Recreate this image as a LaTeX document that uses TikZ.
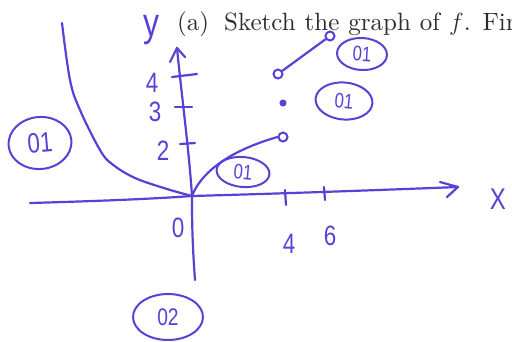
\documentclass[tikz,border=0pt]{standalone}
\usepackage{fontspec}
\newfontfamily\hand[FakeStretch=0.8]{Liberation Sans}
\newfontfamily\printfont{lmroman10-regular.otf}
\usetikzlibrary{shapes.geometric}
\definecolor{inkc}{RGB}{88,66,214}
\definecolor{printc}{RGB}{45,45,45}
\begin{document}
\begin{tikzpicture}[x=1pt,y=-1pt,
  ink/.style={draw=inkc, line width=2.2pt, line cap=round, line join=round},
  hw/.style={text=inkc, font=\hand\fontsize{28}{28}\selectfont, inner sep=0pt},
  hwsmall/.style={text=inkc, font=\hand\fontsize{21}{21}\selectfont, inner sep=0pt},
  score/.style={ellipse, draw=inkc, line width=2pt, inner sep=0pt},
  opendot/.style={circle, draw=inkc, fill=white, line width=2pt, minimum size=9pt, inner sep=0pt},
  filldot/.style={circle, draw=inkc, fill=inkc, line width=1pt, minimum size=6pt, inner sep=0pt}]
\useasboundingbox (0,0) rectangle (512,341);
\clip (0,0) rectangle (512,341);
\fill[white] (0,0) rectangle (512,341);

% printed text
\node[anchor=base west, inner sep=0pt, text=printc, font=\printfont\fontsize{25}{30}\selectfont]
  (title) at (177,30) {\spaceskip=0.36em (a)\hspace{0.6em}Sketch the graph of $f$. Find};

% axes
\coordinate (O) at (192,196);
\coordinate (ytip) at (177,48);
\coordinate (xtip) at (458,187);
\draw[ink] (195,280) .. controls (192,240) and (192,215) .. (O)
  .. controls (189,150) and (181,90) .. (ytip);
\draw[ink] (170,62) -- (ytip) -- (185,57);
\draw[ink] (30,203) .. controls (100,201) and (150,199) .. (O)
  .. controls (300,193) and (380,190) .. (xtip);
\draw[ink] (440,182) -- (xtip) -- (447,197);

% ticks
\draw[ink] (172,77) -- (197,74);
\draw[ink] (175,107) -- (192,107);
\draw[ink] (180,144) -- (195,143);
\draw[ink] (285,190) -- (286,205);
\draw[ink] (324,187) -- (325,200);

% axis labels
\node[hw, font=\hand\fontsize{40}{40}\selectfont] (ylab) at (151,30) {y};
\node[hw] (l4) at (152,83) {4};
\node[hw] (l3) at (155,112) {3};
\node[hw] (l2) at (163,151) {2};
\node[hw] (l0) at (178,228) {0};
\node[hw] (x4) at (289,244) {4};
\node[hw] (x6) at (330,236) {6};
\node[hw, font=\hand\fontsize{30}{30}\selectfont] (xlab) at (498,199) {X};

% left branch
\draw[ink] plot[smooth, tension=0.6] coordinates {(62,23) (70,80) (80,110) (100,150) (112,164) (135,178) (167,189) (O)};

% right curve to open circle
\node[opendot] (c1) at (283,137) {};
\draw[ink] (O) .. controls (200,175) and (225,152) .. (c1.west);
\node[filldot] (d1) at (283,103) {};
\node[opendot] (c2) at (278,74) {};
\node[opendot] (c3) at (330,36) {};
\draw[ink] (c2) -- (c3);

% score marks
\node[score, hw, minimum width=63pt, minimum height=52pt, rotate=5] (s1) at (40,143) {01};
\node[score, hwsmall, minimum width=53pt, minimum height=30pt, rotate=-5] (s2) at (243,172) {01};
\node[score, hwsmall, minimum width=57pt, minimum height=37pt, rotate=-5] (s3) at (344,101) {01};
\node[score, hwsmall, minimum width=50pt, minimum height=32pt, rotate=-3] (s4) at (362,54) {01};
\node[score, hw, font=\hand\fontsize{24}{24}\selectfont, minimum width=70pt, minimum height=46pt] (s5) at (168,317) {02};
\end{tikzpicture}
\end{document}
